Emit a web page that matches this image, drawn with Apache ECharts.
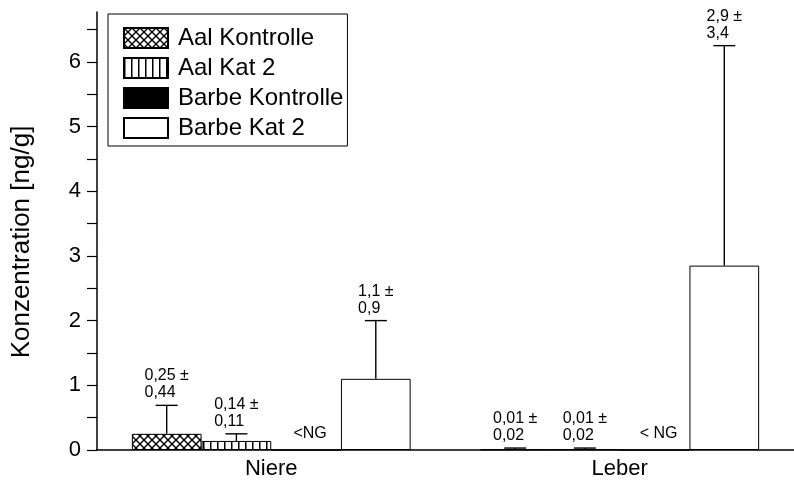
<!DOCTYPE html>
<html><head><meta charset="utf-8">
<script src="https://cdn.jsdelivr.net/npm/echarts@6/dist/echarts.min.js"></script>
<style>html,body{margin:0;padding:0;background:#fff}#c{width:794px;height:480px}</style>
</head><body><div id="c"></div>
<script>
const categories = ['Niere', 'Leber'];
const seriesNames = ['Aal Kontrolle', 'Aal Kat 2', 'Barbe Kontrolle', 'Barbe Kat 2'];
const aalKontrolle = [0.25, 0.01];
const aalKontrolleErr = [0.44, 0.02];
const aalKat2 = [0.14, 0.01];
const aalKat2Err = [0.11, 0.02];
const barbeKontrolle = [0, 0];
const barbeKat2 = [1.1, 2.85];
const barbeKat2Err = [0.9, 3.4];
const aalKontrolleLabels = [['0,25 ±', '0,44'], ['0,01 ±', '0,02']];
const aalKat2Labels = [['0,14 ±', '0,11'], ['0,01 ±', '0,02']];
const barbeKontrolleLabels = ['<NG', '< NG'];
const barbeKat2Labels = [['1,1 ±', '0,9'], ['2,9 ±', '3,4']];
const yTickValues = [0, 0.5, 1, 1.5, 2, 2.5, 3, 3.5, 4, 4.5, 5, 5.5, 6, 6.5];
const yLabelValues = [0, 1, 2, 3, 4, 5, 6];

const FONT = '"Liberation Sans", Arial, Helvetica, sans-serif';
const LABEL_SIZE = 16;

function crossPattern() {
  const c = document.createElement('canvas'); c.width = 8; c.height = 8;
  const g = c.getContext('2d');
  g.fillStyle = '#fff'; g.fillRect(0, 0, 8, 8);
  g.strokeStyle = '#000'; g.lineWidth = 1.4;
  g.beginPath();
  g.moveTo(-1, -1); g.lineTo(9, 9);
  g.moveTo(9, -1); g.lineTo(-1, 9);
  g.stroke();
  return c;
}
function stripePattern() {
  const c = document.createElement('canvas'); c.width = 7; c.height = 7;
  const g = c.getContext('2d');
  g.fillStyle = '#fff'; g.fillRect(0, 0, 7, 7);
  g.fillStyle = '#000'; g.fillRect(0, 0, 1.5, 7);
  return c;
}

const measureCtx = document.createElement('canvas').getContext('2d');
measureCtx.font = LABEL_SIZE + 'px ' + FONT;

function errSeries(idx, means, errs, labels) {
  return {
    type: 'custom',
    z: 5,
    silent: true,
    data: means.map((m, i) => [i, m, errs[i]]),
    renderItem: function (params, api) {
      const ci = api.value(0), m = api.value(1), e = api.value(2);
      const band = api.size([1, 0])[0];
      const bw = band * 0.8 / 4;
      const base = api.coord([ci, m]);
      const x = base[0] + (idx - 1.5) * bw;
      const yBar = base[1];
      const yTop = api.coord([ci, m + e])[1];
      const lines = labels[ci];
      const w = measureCtx.measureText(lines[0]).width;
      const ls = { stroke: '#000', lineWidth: 1.4 };
      return {
        type: 'group',
        children: [
          { type: 'line', shape: { x1: x, y1: yBar, x2: x, y2: yTop }, style: ls },
          { type: 'line', shape: { x1: x - 11, y1: yTop, x2: x + 11, y2: yTop }, style: ls },
          { type: 'text', style: {
              text: lines.join('\n'), x: x - w / 2, y: yTop - 4,
              align: 'left', verticalAlign: 'bottom',
              fill: '#000', fontSize: LABEL_SIZE, fontFamily: FONT, lineHeight: 17 } }
        ]
      };
    }
  };
}

const chart = echarts.init(document.getElementById('c'), null, { renderer: 'canvas' });
const barBase = { type: 'bar', barGap: '0%', barCategoryGap: '20%' };
chart.setOption({
  animation: false,
  backgroundColor: '#fff',
  grid: { left: 97, width: 700, top: 12, bottom: 30 },
  legend: {
    data: seriesNames, orient: 'vertical', left: 108, top: 14,
    itemWidth: 44, itemHeight: 20, itemGap: 6,
    padding: [12, 4, 6, 15],
    borderColor: '#000', borderWidth: 1, icon: 'rect',
    textStyle: { fontSize: 24, fontFamily: FONT, color: '#000', padding: [0, 0, 0, 5] }
  },
  xAxis: {
    type: 'category', data: categories,
    axisLine: { lineStyle: { color: '#000', width: 1.5 } },
    axisTick: { length: 7, lineStyle: { color: '#000', width: 1.4 } },
    axisLabel: { fontSize: 22, fontFamily: FONT, color: '#000', margin: 8 }
  },
  yAxis: {
    type: 'value', min: 0, max: 6.77, interval: 1,
    name: 'Konzentration [ng/g]', nameLocation: 'middle', nameGap: 62,
    nameTextStyle: { fontSize: 26, fontFamily: FONT, color: '#000', padding: [0, 22, 0, 0] },
    axisLine: { show: true, lineStyle: { color: '#000', width: 1.5 } },
    axisTick: { show: true, length: 10, customValues: yTickValues, lineStyle: { color: '#000', width: 1.2 } },
    axisLabel: { customValues: yLabelValues, fontSize: 22, fontFamily: FONT, color: '#000', margin: 16 },
    splitLine: { show: false }
  },
  series: [
    Object.assign({}, barBase, { name: seriesNames[0], data: aalKontrolle,
      itemStyle: { color: { image: crossPattern(), repeat: 'repeat' }, borderColor: '#000', borderWidth: 1 } }),
    Object.assign({}, barBase, { name: seriesNames[1], data: aalKat2,
      itemStyle: { color: { image: stripePattern(), repeat: 'repeat' }, borderColor: '#000', borderWidth: 1 } }),
    Object.assign({}, barBase, { name: seriesNames[2], data: barbeKontrolle,
      itemStyle: { color: '#000', borderColor: '#000', borderWidth: 1 },
      label: { show: true, position: 'top', distance: 8, offset: [4, 0],
        formatter: p => barbeKontrolleLabels[p.dataIndex],
        fontSize: LABEL_SIZE, fontFamily: FONT, color: '#000' } }),
    Object.assign({}, barBase, { name: seriesNames[3], data: barbeKat2,
      itemStyle: { color: '#fff', borderColor: '#000', borderWidth: 1 } }),
    errSeries(0, aalKontrolle, aalKontrolleErr, aalKontrolleLabels),
    errSeries(1, aalKat2, aalKat2Err, aalKat2Labels),
    errSeries(3, barbeKat2, barbeKat2Err, barbeKat2Labels)
  ]
});
</script></body></html>
